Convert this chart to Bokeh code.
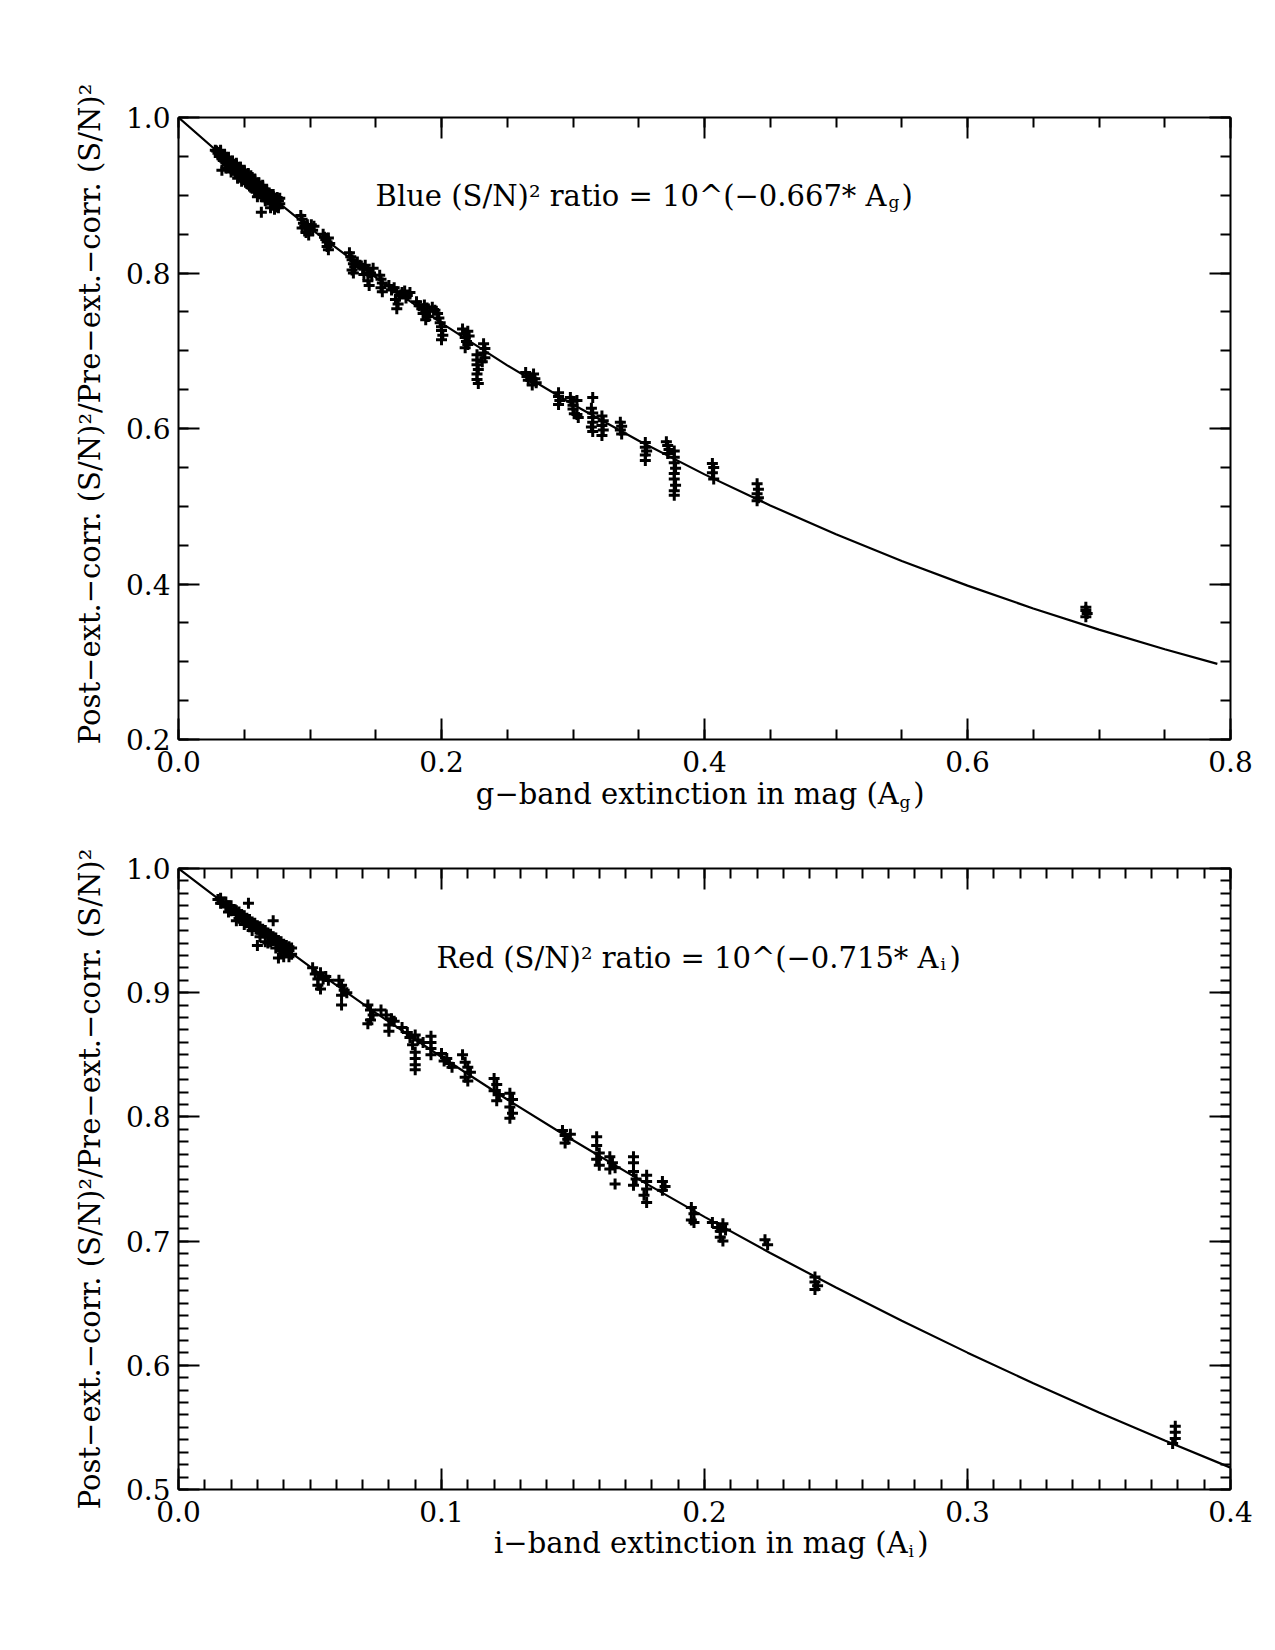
import math
from bokeh.plotting import figure
from bokeh.layouts import column
from bokeh.models import (Range1d, LinearAxis, SingleIntervalTicker, PrintfTickFormatter,
                          CustomJSTickFormatter, Label)
from bokeh.embed import file_html
from bokeh.resources import INLINE

FONT = "DejaVu Serif"

# ---------------- data: blue (g band) ----------------
g_ext = [
    0.028, 0.030, 0.031, 0.032, 0.033, 0.034, 0.035, 0.036, 0.037, 0.038, 0.039, 0.040, 0.041, 0.042,
    0.043, 0.044, 0.045, 0.046, 0.047, 0.048, 0.049, 0.050, 0.051, 0.052, 0.053, 0.054, 0.055, 0.056,
    0.057, 0.058, 0.059, 0.060, 0.061, 0.062, 0.063, 0.064, 0.065, 0.066, 0.067, 0.068, 0.069, 0.070,
    0.071, 0.072, 0.073, 0.074, 0.075, 0.076, 0.077, 0.036, 0.045, 0.052, 0.058, 0.066, 0.070, 0.073,
    0.033, 0.063, 0.060, 0.048, 0.040,
    0.029, 0.031, 0.034, 0.036, 0.038, 0.041, 0.043, 0.046, 0.049, 0.051, 0.054, 0.056, 0.059, 0.061,
    0.064, 0.066, 0.068, 0.071, 0.074, 0.076, 0.077, 0.075, 0.072, 0.069, 0.067, 0.064, 0.061, 0.058,
    0.055, 0.053, 0.050, 0.047, 0.044, 0.041, 0.038, 0.035, 0.032,
    0.093, 0.094, 0.095, 0.096, 0.094, 0.098, 0.100, 0.101, 0.102, 0.097, 0.099, 0.103,
    0.110, 0.111, 0.112, 0.113, 0.114, 0.115, 0.113, 0.114,
    0.130, 0.131, 0.132, 0.133, 0.134, 0.132, 0.133, 0.136,
    0.138, 0.140, 0.142, 0.144, 0.146, 0.148, 0.141, 0.144, 0.145, 0.147,
    0.153, 0.154, 0.155, 0.154, 0.155,
    0.160, 0.162, 0.164, 0.166, 0.168, 0.170, 0.172, 0.174, 0.176, 0.165, 0.167, 0.166, 0.173,
    0.181, 0.183, 0.185, 0.187, 0.189, 0.191, 0.193, 0.186, 0.190, 0.188, 0.195,
    0.197, 0.198, 0.199, 0.200, 0.200, 0.201, 0.200,
    0.216, 0.217, 0.218, 0.220, 0.221, 0.219, 0.218, 0.220,
    0.227, 0.227, 0.227, 0.228, 0.227, 0.227, 0.228,
    0.232, 0.233, 0.232, 0.233, 0.231,
    0.264, 0.265, 0.266, 0.268, 0.270, 0.271, 0.272, 0.269,
    0.289, 0.289, 0.290, 0.289,
    0.298, 0.299, 0.300, 0.300, 0.301, 0.303, 0.303, 0.304,
    0.315,
    0.314, 0.315, 0.315, 0.315, 0.314, 0.315,
    0.322, 0.323, 0.322, 0.323, 0.322,
    0.336, 0.337, 0.336, 0.337,
    0.355, 0.355, 0.356, 0.355, 0.355,
    0.371, 0.372, 0.373, 0.372,
    0.377, 0.377, 0.377, 0.378, 0.377, 0.377, 0.378, 0.377, 0.377,
    0.406, 0.407, 0.406, 0.407,
    0.440, 0.441, 0.440, 0.441, 0.440,
    0.690, 0.690, 0.691, 0.690,
]
g_ratio = [
    0.958, 0.954, 0.950, 0.956, 0.947, 0.951, 0.944, 0.949, 0.942, 0.946, 0.938, 0.943, 0.936, 0.940,
    0.933, 0.938, 0.930, 0.935, 0.927, 0.932, 0.925, 0.929, 0.921, 0.926, 0.919, 0.923, 0.916, 0.921,
    0.913, 0.918, 0.910, 0.915, 0.907, 0.912, 0.904, 0.909, 0.902, 0.906, 0.899, 0.903, 0.896, 0.901,
    0.893, 0.898, 0.890, 0.895, 0.887, 0.893, 0.889, 0.935, 0.922, 0.915, 0.905, 0.893, 0.884, 0.882,
    0.932, 0.878, 0.898, 0.918, 0.930,
    0.957, 0.955, 0.946, 0.943, 0.940, 0.932, 0.929, 0.926, 0.920, 0.917, 0.912, 0.909, 0.905, 0.902,
    0.898, 0.896, 0.894, 0.889, 0.885, 0.884, 0.896, 0.897, 0.901, 0.903, 0.906, 0.913, 0.916, 0.921,
    0.925, 0.928, 0.932, 0.936, 0.941, 0.944, 0.949, 0.952, 0.958,
    0.874, 0.869, 0.864, 0.860, 0.858, 0.862, 0.857, 0.862, 0.855, 0.852, 0.849, 0.860,
    0.850, 0.846, 0.843, 0.840, 0.845, 0.838, 0.834, 0.830,
    0.826, 0.821, 0.817, 0.812, 0.808, 0.804, 0.800, 0.814,
    0.810, 0.806, 0.810, 0.804, 0.800, 0.806, 0.798, 0.790, 0.784, 0.797,
    0.797, 0.792, 0.787, 0.781, 0.776,
    0.784, 0.778, 0.781, 0.776, 0.770, 0.775, 0.777, 0.771, 0.775, 0.766, 0.760, 0.754, 0.768,
    0.763, 0.758, 0.754, 0.759, 0.755, 0.751, 0.756, 0.748, 0.744, 0.740, 0.752,
    0.748, 0.742, 0.736, 0.731, 0.726, 0.720, 0.714,
    0.728, 0.722, 0.717, 0.725, 0.719, 0.712, 0.704, 0.708,
    0.695, 0.688, 0.682, 0.676, 0.670, 0.663, 0.658,
    0.709, 0.703, 0.697, 0.691, 0.686,
    0.672, 0.667, 0.662, 0.665, 0.670, 0.664, 0.659, 0.656,
    0.646, 0.641, 0.636, 0.631,
    0.640, 0.635, 0.630, 0.625, 0.619, 0.618, 0.636, 0.614,
    0.640,
    0.626, 0.620, 0.614, 0.608, 0.602, 0.596,
    0.616, 0.610, 0.604, 0.598, 0.591,
    0.608, 0.603, 0.598, 0.593,
    0.582, 0.576, 0.571, 0.566, 0.559,
    0.583, 0.578, 0.573, 0.568,
    0.571, 0.563, 0.556, 0.549, 0.542, 0.535, 0.527, 0.520, 0.514,
    0.555, 0.550, 0.543, 0.535,
    0.529, 0.522, 0.516, 0.511, 0.507,
    0.370, 0.366, 0.362, 0.358,
]
g_fit_x = [0.0, 0.05, 0.10, 0.15, 0.20, 0.25, 0.30, 0.35, 0.40, 0.45, 0.50, 0.55, 0.60, 0.65, 0.70, 0.75, 0.79]
g_fit_y = [1.0, 0.9261, 0.8577, 0.7943, 0.7356, 0.6812, 0.6309, 0.5842, 0.5410, 0.5010, 0.4640,
           0.4297, 0.3979, 0.3685, 0.3413, 0.3160, 0.2972]

# ---------------- data: red (i band) ----------------
i_ext = [
    0.015, 0.016, 0.017, 0.018, 0.019, 0.020, 0.021, 0.022, 0.023, 0.024, 0.025, 0.026, 0.027, 0.028,
    0.029, 0.030, 0.031, 0.032, 0.033, 0.034, 0.035, 0.036, 0.037, 0.038, 0.039, 0.040, 0.041, 0.042,
    0.043, 0.022, 0.025, 0.028, 0.031, 0.034, 0.037, 0.040, 0.042,
    0.0266, 0.036, 0.030, 0.038, 0.033, 0.040,
    0.016, 0.018, 0.020, 0.022, 0.024, 0.026, 0.028, 0.030, 0.032, 0.034, 0.036, 0.038, 0.040, 0.042,
    0.019, 0.023, 0.027, 0.031, 0.035, 0.039, 0.041, 0.043,
    0.051, 0.052, 0.053, 0.054, 0.055, 0.056, 0.057, 0.053, 0.054,
    0.061, 0.062, 0.063, 0.062, 0.064, 0.062,
    0.072, 0.073, 0.074, 0.073, 0.072,
    0.077, 0.079, 0.081, 0.080, 0.082, 0.080,
    0.085, 0.087, 0.088, 0.090, 0.091, 0.093, 0.089,
    0.090, 0.090, 0.090, 0.090,
    0.096, 0.096, 0.096, 0.096,
    0.100, 0.102, 0.103, 0.101, 0.104,
    0.108, 0.109, 0.110, 0.111, 0.109, 0.110,
    0.120, 0.121, 0.120, 0.122, 0.121,
    0.126, 0.127, 0.126, 0.127, 0.126,
    0.146, 0.147, 0.148, 0.149, 0.147,
    0.159, 0.159, 0.160, 0.159, 0.160,
    0.164, 0.165, 0.164, 0.166, 0.166,
    0.173, 0.173, 0.173, 0.174, 0.173,
    0.178, 0.178, 0.178, 0.177, 0.178,
    0.184, 0.185, 0.184,
    0.195, 0.196, 0.195, 0.196,
    0.203, 0.205, 0.206, 0.207, 0.208, 0.206, 0.207,
    0.223, 0.224,
    0.242, 0.242, 0.243, 0.242,
    0.379, 0.379, 0.379, 0.378,
]
i_ratio = [
    0.975, 0.972, 0.973, 0.969, 0.970, 0.966, 0.967, 0.963, 0.965, 0.960, 0.962, 0.957, 0.959, 0.954,
    0.956, 0.951, 0.953, 0.948, 0.950, 0.945, 0.947, 0.942, 0.944, 0.939, 0.941, 0.936, 0.938, 0.934,
    0.936, 0.958, 0.955, 0.950, 0.945, 0.940, 0.936, 0.932, 0.929,
    0.972, 0.958, 0.938, 0.928, 0.941, 0.929,
    0.976, 0.973, 0.970, 0.966, 0.963, 0.960, 0.957, 0.954, 0.951, 0.948, 0.945, 0.942, 0.939, 0.937,
    0.965, 0.960, 0.953, 0.948, 0.941, 0.934, 0.933, 0.931,
    0.920, 0.915, 0.911, 0.916, 0.911, 0.913, 0.910, 0.906, 0.903,
    0.910, 0.906, 0.902, 0.898, 0.900, 0.890,
    0.890, 0.886, 0.882, 0.878, 0.875,
    0.886, 0.882, 0.879, 0.874, 0.877, 0.869,
    0.872, 0.868, 0.864, 0.866, 0.862, 0.860, 0.858,
    0.852, 0.847, 0.842, 0.838,
    0.865, 0.860, 0.855, 0.850,
    0.851, 0.847, 0.843, 0.845, 0.840,
    0.850, 0.844, 0.840, 0.836, 0.832, 0.829,
    0.831, 0.826, 0.821, 0.818, 0.813,
    0.819, 0.814, 0.808, 0.803, 0.799,
    0.789, 0.785, 0.782, 0.786, 0.779,
    0.784, 0.777, 0.771, 0.766, 0.761,
    0.768, 0.763, 0.758, 0.759, 0.746,
    0.768, 0.763, 0.756, 0.750, 0.745,
    0.753, 0.748, 0.742, 0.737, 0.731,
    0.748, 0.744, 0.741,
    0.727, 0.722, 0.717, 0.715,
    0.715, 0.711, 0.708, 0.714, 0.709, 0.703, 0.700,
    0.701, 0.697,
    0.671, 0.667, 0.664, 0.661,
    0.551, 0.546, 0.541, 0.537,
]
i_fit_x = [0.0, 0.025, 0.05, 0.075, 0.10, 0.125, 0.15, 0.175, 0.20, 0.225, 0.25, 0.275, 0.30,
           0.325, 0.35, 0.375, 0.40]
i_fit_y = [1.0, 0.9597, 0.9210, 0.8838, 0.8482, 0.8140, 0.7812, 0.7497, 0.7195, 0.6904, 0.6626,
           0.6359, 0.6102, 0.5856, 0.5620, 0.5394, 0.5176]

y_label = "Post\u2212ext.\u2212corr. (S/N)\u00b2/Pre\u2212ext.\u2212corr. (S/N)\u00b2"
g_xlabel = "g\u2212band extinction in mag (A\u2002)"
i_xlabel = "i\u2212band extinction in mag (A\u2004)"
TICK = "28px"
MAIN = "29px"
SUB = "17px"


def make_panel(xr, yr, x_major, x_minor, y_major, y_minor, top, bottom, fh, ylab):
    p = figure(width=178 + 1052 + 37, height=top + fh + bottom, frame_width=1052, frame_height=fh,
               x_range=Range1d(*xr), y_range=Range1d(*yr), output_backend="svg",
               toolbar_location=None, x_axis_location=None, y_axis_location=None,
               min_border_left=178, min_border_right=37, min_border_top=top,
               min_border_bottom=bottom)
    p.grid.visible = False
    p.outline_line_color = None
    p.background_fill_color = "white"
    p.border_fill_color = "white"
    for loc in ("below", "left", "above", "right"):
        major = x_major if loc in ("below", "above") else y_major
        minor = x_minor if loc in ("below", "above") else y_minor
        ax = LinearAxis(ticker=SingleIntervalTicker(interval=major, num_minor_ticks=minor))
        ax.axis_line_width = 2
        ax.axis_line_color = "black"
        ax.major_tick_in = 21
        ax.major_tick_out = 0
        ax.minor_tick_in = 10
        ax.minor_tick_out = 0
        ax.major_tick_line_width = 2
        ax.minor_tick_line_width = 2
        if loc in ("below", "left"):
            ax.formatter = PrintfTickFormatter(format="%.1f")
            ax.major_label_text_font = FONT
            ax.major_label_text_font_size = TICK
            ax.major_label_text_color = "black"
            ax.major_label_standoff = 11 if loc == "below" else 8
        else:
            ax.formatter = CustomJSTickFormatter(code="return ''")
            ax.major_label_text_font_size = "1px"
            ax.major_label_standoff = 0
        if loc == "left":
            ax.axis_label = ylab
            ax.axis_label_text_font = FONT
            ax.axis_label_text_font_size = MAIN
            ax.axis_label_text_font_style = "normal"
            ax.axis_label_text_color = "black"
            ax.axis_label_standoff = 16
        p.add_layout(ax, loc)
    return p


def lab(p, x, y, text, size, align, place="center"):
    p.add_layout(Label(x=x, y=y, x_units="screen", y_units="screen", text=text, text_font=FONT,
                       text_font_size=size, text_align=align, text_baseline="alphabetic",
                       text_color="black"), place)


# ---------------- top panel ----------------
p1 = make_panel((0.0, 0.8), (0.2, 1.0), 0.2, 4, 0.2, 4, 117, 105, 622, "\u2002\u2002" + y_label)
p1.line(g_fit_x, g_fit_y, line_color="black", line_width=2.2)
p1.scatter(g_ext, g_ratio, marker="cross", size=11, line_width=3, line_color="black")
lab(p1, 708, 544, "Blue (S/N)\u00b2 ratio = 10^(\u22120.667* A", MAIN, "right")
lab(p1, 710, 538, "g", SUB, "left")
lab(p1, 723, 544, ")", MAIN, "left")
# x-axis title below the tick labels (main text, then the subscript)
lab(p1, 746, 15, g_xlabel, MAIN, "right", "below")
lab(p1, 721, 27, "g", SUB, "left", "below")

# ---------------- bottom panel ----------------
p2 = make_panel((0.0, 0.4), (0.5, 1.0), 0.1, 10, 0.1, 10, 24, 110, 621, y_label)
p2.line(i_fit_x, i_fit_y, line_color="black", line_width=2.2)
p2.scatter(i_ext, i_ratio, marker="cross", size=11, line_width=3, line_color="black")
lab(p2, 760, 532, "Red (S/N)\u00b2 ratio = 10^(\u22120.715* A", MAIN, "right")
lab(p2, 762, 526, "i", SUB, "left")
lab(p2, 771, 532, ")", MAIN, "left")
lab(p2, 750, 16, i_xlabel, MAIN, "right", "below")
lab(p2, 730, 28, "i", SUB, "left", "below")

layout = column(p1, p2)
open("out.html", "w").write(file_html(layout, INLINE))
